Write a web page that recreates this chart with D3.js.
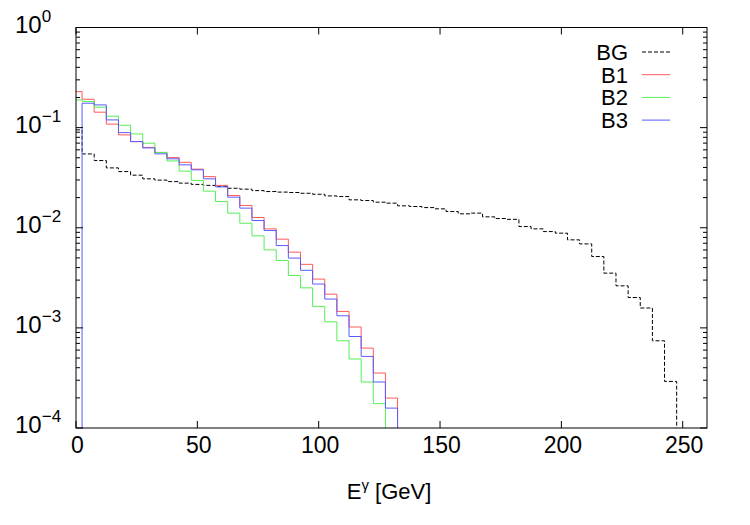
<!DOCTYPE html>
<html>
<head>
<meta charset="utf-8">
<script src="https://cdn.jsdelivr.net/npm/d3@7"></script>
<style>
  body { margin: 0; background: #fff; }
  svg text { font-family: "Liberation Sans", Arial, sans-serif; fill: #000; }
</style>
</head>
<body>
<div id="chart"></div>
<script>
// histograms of photon energy, gnuplot "histeps" style, 5 GeV bins centred on 0, 5, 10 ...
const binWidth = 5;
const seriesNames = ["BG", "B1", "B2", "B3"];
const seriesColors = ["#000000", "#ff5a5a", "#55ee55", "#5a5aff"];

// values per bin (0 = below the plotted range)
const bgValues = [0.095, 0.0546, 0.0469, 0.0396, 0.0364, 0.0335, 0.0308, 0.0299, 0.0289, 0.0279,
  0.0271, 0.0265, 0.0258, 0.0248, 0.0243, 0.0235, 0.0230, 0.0227, 0.0225, 0.0221,
  0.0216, 0.0208, 0.0205, 0.0190, 0.0187, 0.0180, 0.0176, 0.01655, 0.0163, 0.0159,
  0.01545, 0.01452, 0.01377, 0.0140, 0.01285, 0.01236, 0.01213, 0.01028, 0.00975, 0.00916,
  0.00883, 0.00757, 0.0069, 0.00516, 0.00352, 0.00263, 0.00201, 0.00158, 0.000743, 0.000292, 0];
const b1Values = [0.229, 0.192, 0.1426, 0.1084, 0.0846, 0.0725, 0.0634, 0.0565, 0.0502, 0.045,
  0.0385, 0.0324, 0.0265, 0.0210, 0.0167, 0.01265, 0.00975, 0.00769, 0.00571, 0.00431,
  0.00307, 0.00217, 0.00146, 0.00102, 0.000628, 0.000354, 0.000199, 0];
const b2Values = [0.189, 0.1826, 0.16, 0.130, 0.1057, 0.0865, 0.0699, 0.0565, 0.0465, 0.0368,
  0.0297, 0.0232, 0.01825, 0.0140, 0.0111, 0.0083, 0.00601, 0.00471, 0.00334, 0.00251,
  0.00164, 0.00115, 0.000743, 0.000489, 0.000288, 0.000175, 0];
const b3Values = [0, 0.1753, 0.1686, 0.1194, 0.0891, 0.0725, 0.0627, 0.0547, 0.0488, 0.0425,
  0.0379, 0.0308, 0.0256, 0.0202, 0.0157, 0.0118, 0.00938, 0.00664, 0.00498, 0.00376,
  0.00274, 0.00194, 0.00132, 0.00082, 0.000519, 0.000288, 0.000158, 0];

const xTicks = [0, 50, 100, 150, 200, 250];
const yDecades = [0, -1, -2, -3, -4];

const width = 750, height = 525;
const margin = { top: 27.5, right: 43, bottom: 97, left: 76 };

const svg = d3.select("#chart").append("svg")
  .attr("width", width).attr("height", height);

const x = d3.scaleLinear().domain([0, 260]).range([margin.left, width - margin.right]);
const y = d3.scaleLog().domain([1e-4, 1]).range([height - margin.bottom, margin.top]);

const x0 = x.range()[0], x1 = x.range()[1];
const yb = y.range()[0], yt = y.range()[1];

svg.append("clipPath").attr("id", "plotClip")
  .append("rect").attr("x", x0).attr("y", yt).attr("width", x1 - x0).attr("height", yb - yt);

// step path in gnuplot histeps style
function histeps(values) {
  const yy = v => v > 0 ? y(v) : yb + 20;
  let d = "";
  values.forEach((v, i) => {
    const left = x(i * binWidth - binWidth / 2);
    const right = x(i * binWidth + binWidth / 2);
    d += (i === 0 ? "M" : "L") + left + "," + yy(v) + "L" + right + "," + yy(v);
  });
  return d;
}

const allSeries = [bgValues, b1Values, b2Values, b3Values];
const plot = svg.append("g").attr("clip-path", "url(#plotClip)");
allSeries.forEach((vals, i) => {
  plot.append("path")
    .attr("d", histeps(vals))
    .attr("fill", "none")
    .attr("stroke", seriesColors[i])
    .attr("stroke-width", 1)
    .attr("stroke-dasharray", i === 0 ? "4,2" : null);
});

// frame
svg.append("rect")
  .attr("x", x0).attr("y", yt).attr("width", x1 - x0).attr("height", yb - yt)
  .attr("fill", "none").attr("stroke", "#000").attr("stroke-width", 1);

// x ticks (bottom + mirrored top)
const ax = svg.append("g");
xTicks.forEach(t => {
  ax.append("line").attr("x1", x(t)).attr("x2", x(t)).attr("y1", yb).attr("y2", yb - 7).attr("stroke", "#000");
  ax.append("line").attr("x1", x(t)).attr("x2", x(t)).attr("y1", yt).attr("y2", yt + 7).attr("stroke", "#000");
  ax.append("text").attr("x", x(t) + 1.5).attr("y", yb + 25)
    .attr("text-anchor", "middle").attr("font-size", 23).text(t);
});

// y ticks, log minor ticks (left + mirrored right)
const ay = svg.append("g");
yDecades.forEach(e => {
  const v = Math.pow(10, e);
  ay.append("line").attr("x1", x0).attr("x2", x0 + 7).attr("y1", y(v)).attr("y2", y(v)).attr("stroke", "#000");
  ay.append("line").attr("x1", x1).attr("x2", x1 - 7).attr("y1", y(v)).attr("y2", y(v)).attr("stroke", "#000");
  if (e < 0) {
    for (let m = 2; m <= 9; m++) {
      const mv = m * v;
      ay.append("line").attr("x1", x0).attr("x2", x0 + 4).attr("y1", y(mv)).attr("y2", y(mv)).attr("stroke", "#000");
      ay.append("line").attr("x1", x1).attr("x2", x1 - 4).attr("y1", y(mv)).attr("y2", y(mv)).attr("stroke", "#000");
    }
  }
  const lab = ay.append("text").attr("x", 15).attr("y", y(v) + 5)
    .attr("text-anchor", "start").attr("font-size", 24);
  lab.append("tspan").text("10");
  lab.append("tspan").attr("dy", -11).attr("font-size", 17).text(e === 0 ? "0" : "\u2212" + (-e));
});

// axis title
const xt = svg.append("text").attr("x", 389).attr("y", 499)
  .attr("text-anchor", "middle").attr("font-size", 22);
xt.append("tspan").text("E");
xt.append("tspan").attr("dy", -9).attr("font-size", 15).text("\u03b3");
xt.append("tspan").attr("dy", 9).text(" [GeV]");

// legend
const lg = svg.append("g");
seriesNames.forEach((name, i) => {
  const ly = 52 + i * 22.7;
  lg.append("text").attr("x", 628).attr("y", ly + 8)
    .attr("text-anchor", "end").attr("font-size", 22).text(name);
  lg.append("line").attr("x1", 642).attr("x2", 670).attr("y1", ly).attr("y2", ly)
    .attr("stroke", seriesColors[i]).attr("stroke-width", 1)
    .attr("stroke-dasharray", i === 0 ? "4,2" : null);
});
</script>
</body>
</html>
